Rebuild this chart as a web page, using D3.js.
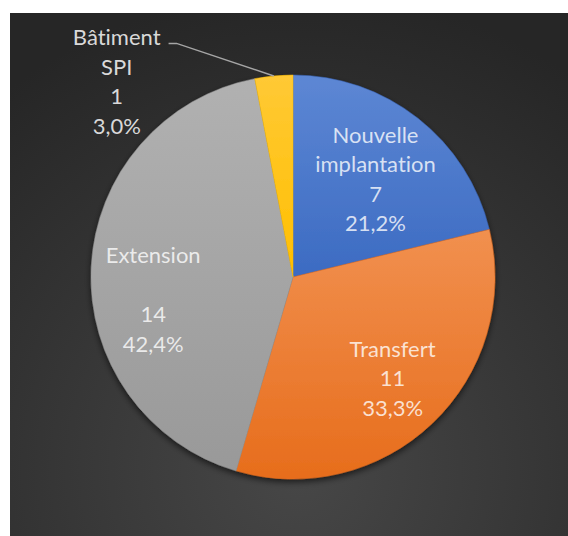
<!DOCTYPE html>
<html>
<head>
<meta charset="utf-8">
<script src="https://cdn.jsdelivr.net/npm/d3@7"></script>
<style>
  html, body { margin: 0; padding: 0; background: #ffffff; }
  svg { display: block; }
  .lbl { font-family: Lato, "Noto Sans", sans-serif; font-size: 22px; font-variant-ligatures: none; }
</style>
</head>
<body>
<div id="chart"></div>
<script>
// data
const categories = ['Nouvelle implantation', 'Transfert', 'Extension', 'Bâtiment SPI'];
const values = [7, 11, 14, 1];
const nameLines = [['Nouvelle', 'implantation'], ['Transfert'], ['Extension', ''], ['Bâtiment', 'SPI']];

const colorsTop = ['#5d87d4', '#f1904f', '#b1b1b1', '#ffc935'];
const colorsBottom = ['#3c6bc2', '#e76d1c', '#999999', '#ffbf00'];

const width = 568;
const height = 536;
const cx = 293, cy = 277;
const radius = 202;
const lineH = 29.5;

// label tweaks (relative to the arc centroid at r=140)
const nudges = [[-4, 13], [3, 1], [0, 30], [-163, -55]];

const total = d3.sum(values);
const pct = v => d3.format('.1%')(v / total).replace('.', ',');

const data = categories.map((c, i) => ({ name: c, value: values[i], i: i }));

const svg = d3.select('#chart').append('svg')
    .attr('width', width)
    .attr('height', height);

const defs = svg.append('defs');

const bg = defs.append('radialGradient')
    .attr('id', 'bg')
    .attr('gradientUnits', 'userSpaceOnUse')
    .attr('cx', 300).attr('cy', 470).attr('r', 480);
bg.append('stop').attr('offset', '0%').attr('stop-color', '#474747');
bg.append('stop').attr('offset', '100%').attr('stop-color', '#262626');

data.forEach(function(d) {
    const g = defs.append('linearGradient')
        .attr('id', 'slice' + d.i)
        .attr('x1', 0).attr('y1', 0).attr('x2', 0).attr('y2', 1);
    g.append('stop').attr('offset', '0%').attr('stop-color', colorsTop[d.i]);
    g.append('stop').attr('offset', '100%').attr('stop-color', colorsBottom[d.i]);
});

const shadow = defs.append('filter')
    .attr('id', 'shadow')
    .attr('x', '-20%').attr('y', '-20%').attr('width', '140%').attr('height', '140%');
shadow.append('feDropShadow')
    .attr('dx', 0).attr('dy', 3)
    .attr('stdDeviation', 3)
    .attr('flood-color', '#000')
    .attr('flood-opacity', 0.6);

svg.append('rect')
    .attr('x', 10).attr('y', 13)
    .attr('width', width - 10).attr('height', height - 13)
    .attr('fill', 'url(#bg)');

const pie = d3.pie()
    .value(function(d) { return d.value; })
    .sort(null);

const arc = d3.arc().innerRadius(0).outerRadius(radius);
const labelArc = d3.arc().innerRadius(140).outerRadius(140);
const edgeArc = d3.arc().innerRadius(radius).outerRadius(radius);

const arcs = pie(data);

const g = svg.append('g')
    .attr('transform', 'translate(' + cx + ',' + cy + ')');

g.append('g')
    .attr('filter', 'url(#shadow)')
    .selectAll('path')
    .data(arcs)
    .enter()
    .append('path')
    .attr('d', arc)
    .attr('fill', function(d) { return 'url(#slice' + d.data.i + ')'; })
    .attr('stroke', function(d) { return colorsBottom[d.data.i]; })
    .attr('stroke-width', 0.5);

arcs.forEach(function(d) {
    const c = labelArc.centroid(d);
    const n = nudges[d.data.i];
    const x = c[0] + n[0];
    const y = c[1] + n[1];
    const lines = nameLines[d.data.i].concat([String(d.data.value), pct(d.data.value)]);
    const outside = d.data.value / total < 0.05;
    const first = y - (lines.length - 1) * lineH / 2 + 7;

    const t = g.append('text')
        .attr('class', 'lbl')
        .attr('text-anchor', 'middle')
        .attr('fill', outside ? '#d9d9d9' : '#ffffff')
        .attr('fill-opacity', outside ? 1 : 0.78);

    lines.forEach(function(s, k) {
        t.append('tspan')
            .attr('x', x)
            .attr('y', first + k * lineH)
            .text(s);
    });

    if (outside) {
        const w = t.select('tspan').node().getComputedTextLength();
        const sx = x + w / 2 + 8;
        const sy = first - 2;
        const e = edgeArc.centroid(d);
        g.append('polyline')
            .attr('points', [[sx, sy], [sx + 8, sy], e].map(p => p.join(',')).join(' '))
            .attr('fill', 'none')
            .attr('stroke', '#a6a6a6')
            .attr('stroke-width', 1.5);
    }
});
</script>
</body>
</html>
